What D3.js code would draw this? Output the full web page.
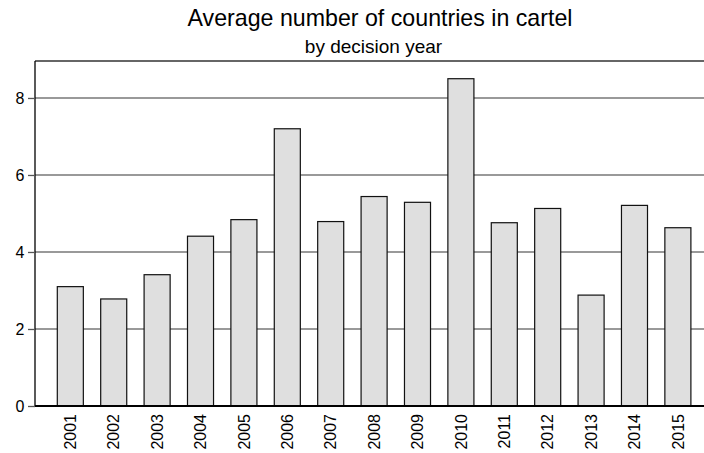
<!DOCTYPE html>
<html><head><meta charset="utf-8">
<script src="https://cdn.jsdelivr.net/npm/d3@7"></script>
<style>body{margin:0;background:#fff}svg{display:block}text{font-family:"Liberation Sans",Arial,sans-serif}</style>
</head><body>
<svg id="c" width="704" height="453"></svg>
<script>
const years = ["2001","2002","2003","2004","2005","2006","2007","2008","2009","2010","2011","2012","2013","2014","2015"];
const avgCountries = [3.10,2.78,3.41,4.41,4.84,7.20,4.79,5.44,5.29,8.50,4.76,5.13,2.88,5.21,4.63];
const yTicks = [0,2,4,6,8];
const titleText = "Average number of countries in cartel";
const subtitleText = "by decision year";

(function(){
const svg = d3.select("#c");
const pL = 35, pR = 704, pT = 61, pB = 406;
const x = d3.scaleBand().domain(years).range([57.3, 690.9]).paddingInner(0.4).paddingOuter(0);
const y = d3.scaleLinear().domain([0, 8.96]).range([pB, pT]);

// gridlines
svg.append("g").selectAll("line").data(yTicks.filter(d=>d>0)).join("line")
  .attr("x1", pL).attr("x2", pR).attr("y1", d=>y(d)).attr("y2", d=>y(d))
  .attr("stroke", "#777").attr("stroke-width", 1.5);

// top border
svg.append("line").attr("x1", pL).attr("x2", pR).attr("y1", pT).attr("y2", pT)
  .attr("stroke", "#333").attr("stroke-width", 1.3);

// bars
svg.append("g").selectAll("rect").data(years).join("rect")
  .attr("x", d=>x(d)).attr("width", x.bandwidth())
  .attr("y", (d,i)=>y(avgCountries[i])).attr("height", (d,i)=>pB - y(avgCountries[i]))
  .attr("fill", "#dfdfdf").attr("stroke", "#111").attr("stroke-width", 1.2);

// y axis
const ya = svg.append("g").attr("transform", `translate(${pL},0)`)
  .call(d3.axisLeft(y).tickValues(yTicks).tickSize(7).tickPadding(3.5).tickFormat(d3.format("d")));
ya.select(".domain").attr("d", `M0,${pT}V${pB}`).attr("stroke", "#000").attr("stroke-width", 1.3);
ya.selectAll(".tick line").attr("stroke", "#555").attr("stroke-width", 1.3);
ya.selectAll(".tick text").attr("font-size", 16).attr("fill", "#000");

// x axis
const xa = svg.append("g").attr("transform", `translate(0,${pB})`)
  .call(d3.axisBottom(x).tickSize(0).tickPadding(0));
xa.select(".domain").attr("d", `M${pL},0H${pR}`).attr("stroke", "#000").attr("stroke-width", 2);
xa.selectAll(".tick text").attr("font-size", 16).attr("fill", "#000")
  .attr("transform", "rotate(-90)").attr("text-anchor", "end")
  .attr("x", -8).attr("y", 0).attr("dy", "0.36em");

// titles
svg.append("text").attr("x", 380).attr("y", 26).attr("text-anchor", "middle")
  .attr("font-size", 23.2).attr("fill", "#000").text(titleText);
svg.append("text").attr("x", 373.5).attr("y", 52.5).attr("text-anchor", "middle")
  .attr("font-size", 19).attr("fill", "#000").text(subtitleText);
})();
</script>
</body></html>
